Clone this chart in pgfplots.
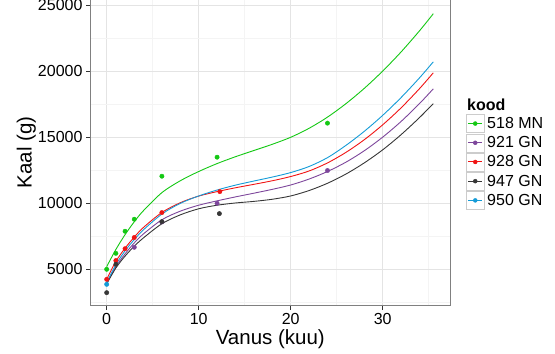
\documentclass[border=0pt]{standalone}
\usepackage{fontspec}
\setmainfont{Liberation Sans}
\usepackage{pgfplots}
\pgfplotsset{compat=1.18}
\definecolor{cgreen}{RGB}{20,200,20}
\definecolor{cpurple}{RGB}{125,70,155}
\definecolor{cred}{RGB}{240,20,20}
\definecolor{cblack}{RGB}{55,55,55}
\definecolor{cblue}{RGB}{20,155,215}
\definecolor{gridmaj}{RGB}{228,228,228}
\definecolor{gridmin}{RGB}{244,244,244}
\newcommand{\tickfont}{\fontsize{16bp}{19bp}\selectfont}
\begin{document}
\begin{tikzpicture}[x=1bp,y=1bp]
\useasboundingbox (0,0) rectangle (555,353);
\begin{axis}[
  at={(90.3bp,47.3bp)}, anchor=south west, scale only axis,
  width=360bp, height=306.7bp,
  xmin=-1.78, xmax=37.35, ymin=2246, ymax=25454,
  xtick={0,10,20,30}, ytick={5000,10000,15000,20000,25000},
  minor xtick={5,15,25,35}, minor ytick={2500,7500,12500,17500,22500},
  grid=both,
  major grid style={color=gridmaj, line width=0.5bp},
  minor grid style={color=gridmin, line width=0.5bp},
  axis line style={color=black!50, line width=0.7bp},
  tick align=outside, major tick length=4.3bp, minor tick length=0pt,
  xtick pos=bottom, ytick pos=left,
  tick style={color=black!80, line width=0.5bp},
  scaled y ticks=false,
  /pgf/number format/assume math mode=true,
  /pgf/number format/set thousands separator={},
  ticklabel style={font=\tickfont},
  xlabel={Vanus (kuu)}, ylabel={Kaal (g)},
  xlabel style={at={(axis description cs:0.5,-0.1281)}, anchor=base, font=\fontsize{20.5bp}{24bp}\selectfont},
  ylabel style={at={(axis description cs:-0.1628,0.5)}, anchor=base, font=\fontsize{20.5bp}{24bp}\selectfont},
  legend style={at={(axis description cs:1.0436,0.624)}, anchor=north west, draw=none, fill=none,
    inner sep=0pt, outer sep=0pt, font=\tickfont, row sep=0.7bp, column sep=2.7bp,
    nodes={inner sep=0pt}, name=leg},
  legend cell align=left,
  legend image code/.code={
    \draw[draw=black!20, fill=white, line width=0.5bp] (0bp,-9bp) rectangle (18bp,9bp);
    \draw[#1, line width=1bp] (2bp,0bp) -- (16bp,0bp);
    \fill[#1] (9bp,0bp) circle (2bp);
  },
]
% points
\addplot[only marks, mark=*, mark size=2.2bp, color=cgreen, forget plot] coordinates {
 (0,5000) (1,6210) (2,7880) (3,8790) (6,12045) (12,13485) (24,16060)};
\addplot[only marks, mark=*, mark size=2.2bp, color=cpurple, forget plot] coordinates {
 (3,6667) (6,8586) (12,10000) (24,12474)};
\addplot[only marks, mark=*, mark size=2.2bp, color=cred, forget plot] coordinates {
 (0,4242) (1,5660) (2,6560) (3,7410) (6,9293) (12.3,10880)};
\addplot[only marks, mark=*, mark size=2.2bp, color=cblack, forget plot] coordinates {
 (0,3232) (1,5380) (6,8606) (12.25,9215)};
\addplot[only marks, mark=*, mark size=2.2bp, color=cblue, forget plot] coordinates {
 (0,3864)};
% curves
\addplot[color=cgreen, line width=0.9bp, smooth, forget plot] table {
x y
0 5200
1 6500
2 7625
3 8600
4 9440
6 10800
8 11700
10 12400
12 13000
14 13520
16 13990
18 14460
20 14990
22 15670
24 16515
26 17531
28 18693
30 20000
32 21449
34 23045
35.5 24340
};
\addplot[color=cpurple, line width=0.9bp, smooth, forget plot] table {
x y
0 3950
1 5200
2 6170
3 7000
4 7680
6 8750
8 9400
10 9850
12 10180
14 10480
16 10760
18 11050
20 11380
22 11830
24 12400
26 13105
28 13971
30 15000
32 16188
34 17539
35.5 18658
};
\addplot[color=cred, line width=0.9bp, smooth, forget plot] table {
x y
0 4250
1 5600
2 6600
3 7440
4 8170
6 9300
8 10040
10 10540
12 10880
14 11170
16 11430
18 11700
20 12020
22 12440
24 13050
26 13846
28 14806
30 15933
32 17218
34 18670
35.5 19870
};
\addplot[color=cblack, line width=0.9bp, smooth, forget plot] table {
x y
0 3900
1 5100
2 6000
3 6750
4 7380
6 8450
8 9120
10 9580
12 9850
14 10020
16 10140
18 10300
20 10550
22 10960
24 11510
26 12206
28 13054
30 14040
32 15190
34 16480
35.5 17540
};
\addplot[color=cblue, line width=0.9bp, smooth, forget plot] table {
x y
0 4000
1 5350
2 6400
3 7250
4 7990
6 9180
8 9990
10 10550
12 11000
14 11370
16 11680
18 11980
20 12320
22 12780
24 13450
26 14375
28 15441
30 16650
32 17996
34 19486
35.5 20700
};
\addlegendimage{color=cgreen}\addlegendentry{518 MN}
\addlegendimage{color=cpurple}\addlegendentry{921 GN}
\addlegendimage{color=cred}\addlegendentry{928 GN}
\addlegendimage{color=cblack}\addlegendentry{947 GN}
\addlegendimage{color=cblue}\addlegendentry{950 GN}
\end{axis}
\node[anchor=base west, inner sep=0pt, font=\bfseries\tickfont] at ([xshift=1bp,yshift=4.3bp]leg.north west) {kood};
\end{tikzpicture}
\end{document}
